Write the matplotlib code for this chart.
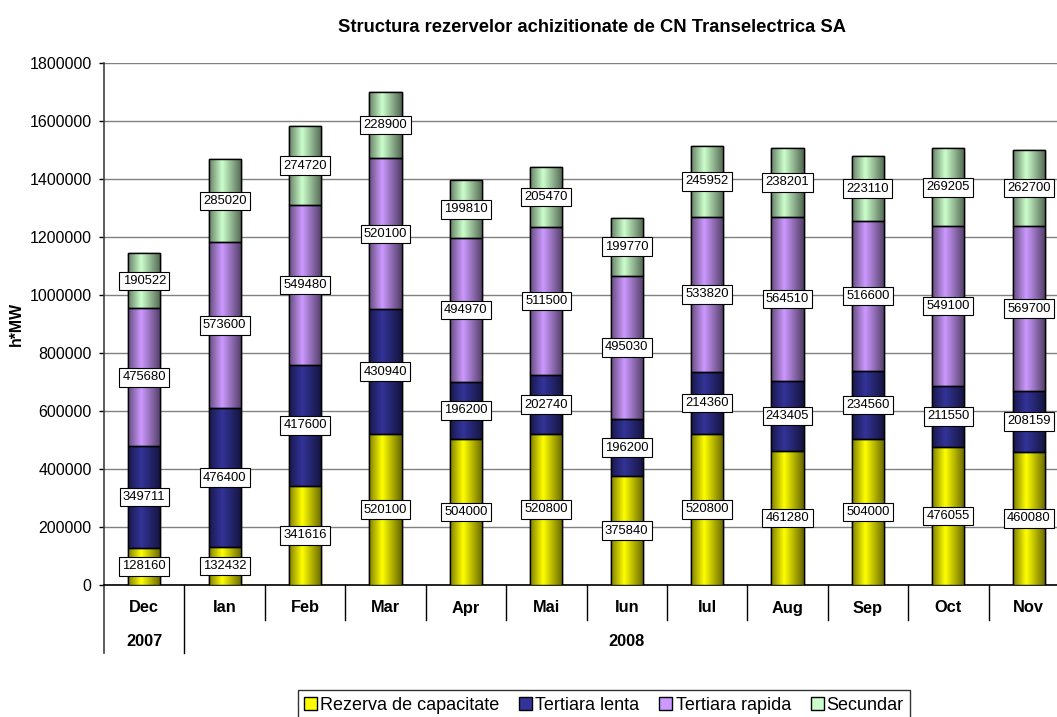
import numpy as np
import matplotlib
matplotlib.use("Agg")
import matplotlib.pyplot as plt
from matplotlib.patches import Patch

plt.rcParams['font.family'] = ['Liberation Sans', 'DejaVu Sans']

months = ["Dec", "Ian", "Feb", "Mar", "Apr", "Mai", "Iun", "Iul", "Aug", "Sep", "Oct", "Nov"]
years = ["2007", "2008"]
series_names = ["Rezerva de capacitate", "Tertiara lenta", "Tertiara rapida", "Secundar"]
rezerva = [128160, 132432, 341616, 520100, 504000, 520800, 375840, 520800, 461280, 504000, 476055, 460080]
lenta = [349711, 476400, 417600, 430940, 196200, 202740, 196200, 214360, 243405, 234560, 211550, 208159]
rapida = [475680, 573600, 549480, 520100, 494970, 511500, 495030, 533820, 564510, 516600, 549100, 569700]
secundar = [190522, 285020, 274720, 228900, 199810, 205470, 199770, 245952, 238201, 223110, 269205, 262700]
colors = ["#FFFF00", "#333399", "#CC99FF", "#CCFFCC"]

W, H = 1057, 717
fig = plt.figure(figsize=(W / 100, H / 100), dpi=100)
ax = fig.add_axes([104 / W, 1 - 585 / H, (1069 - 104) / W, (585 - 63) / H])

x = np.arange(len(months))
width = 0.4
bottom = np.zeros(len(months))

# cylinder-like horizontal shading profile
t = np.linspace(0, 1, 64)
shade = np.interp(t, [0, 0.4, 1.0], [0.5, 1.0, 0.4])

data = [rezerva, lenta, rapida, secundar]
for vals, col in zip(data, colors):
    vals = np.array(vals, dtype=float)
    bars = ax.bar(x, vals, width, bottom=bottom, color=col, edgecolor="black",
                  linewidth=1.0, zorder=3)
    rgb = np.array(matplotlib.colors.to_rgb(col))
    grad = (shade[:, None] * rgb[None, :])[None, :, :]
    for b in bars:
        x0, y0 = b.get_x(), b.get_y()
        im = ax.imshow(grad, extent=[x0, x0 + b.get_width(), y0, y0 + b.get_height()],
                       aspect='auto', zorder=3.5, interpolation='bilinear')
        im.set_clip_path(b)
        ax.bar(b.get_x() + b.get_width() / 2, b.get_height(), b.get_width(),
               bottom=y0, fill=False, edgecolor="black", linewidth=1.0, zorder=4)
    for xi, v, b0 in zip(x, vals, bottom):
        ax.text(xi, b0 + v / 2, f"{int(v)}", ha="center", va="center", fontsize=9.4,
                zorder=6,
                bbox=dict(boxstyle="square,pad=0.25", facecolor="white",
                          edgecolor="black", linewidth=0.8))
    bottom += vals

ax.set_xlim(-0.5, len(months) - 0.5)
ax.set_ylim(0, 1800000)
ax.set_yticks(np.arange(0, 1800001, 200000))
ax.set_yticklabels([str(v) for v in range(0, 1800001, 200000)], fontsize=11.5)
ax.yaxis.grid(True, color="#808080", linewidth=1.0, zorder=0)
ax.set_axisbelow(True)
ax.tick_params(axis='y', direction='out', length=3.6, width=1, pad=5.3)
ax.set_xticks([])
for s in ["top", "right"]:
    ax.spines[s].set_visible(False)
ax.spines["left"].set_color("#404040")
ax.spines["left"].set_linewidth(1.2)
ax.spines["bottom"].set_linewidth(1.2)

ax.set_ylabel("h*MW", fontsize=11.4, fontweight="bold")
ax.yaxis.set_label_coords(-80 / 965, 0.5)

# category axis (two levels)
ah = 522.0
trans = matplotlib.transforms.blended_transform_factory(ax.transData, ax.transAxes)
for i, m in enumerate(months):
    ax.text(i, -23 / ah, m, transform=trans, ha="center", va="center",
            fontsize=11.8, fontweight="bold")
for k in range(1, len(months) + 1):
    ylow = -68 / ah if k == 1 else -35 / ah
    ax.plot([k - 0.5, k - 0.5], [0, ylow], transform=trans, color="black",
            linewidth=1.0, clip_on=False)
ax.plot([-0.5, -0.5], [0, -68 / ah], transform=trans, color="#404040",
        linewidth=1.2, clip_on=False)
ax.text(0, -56 / ah, years[0], transform=trans, ha="center", va="center",
        fontsize=11.8, fontweight="bold")
ax.text(6, -56 / ah, years[1], transform=trans, ha="center", va="center",
        fontsize=11.8, fontweight="bold")

fig.text(592 / W, 1 - 27 / H, "Structura rezervelor achizitionate de CN Transelectrica SA",
         ha="center", va="center", fontsize=13.2, fontweight="bold")

handles = [Patch(facecolor=c, edgecolor="black", linewidth=1.0) for c in colors]
leg = fig.legend(handles, series_names, loc="center", ncol=4,
                 bbox_to_anchor=(604 / W, 1 - 705 / H), fontsize=13,
                 handlelength=0.72, handleheight=0.72, handletextpad=0.17,
                 columnspacing=1.1, frameon=True, fancybox=False,
                 borderpad=0.35, borderaxespad=0)
leg.get_frame().set_edgecolor("black")
leg.get_frame().set_linewidth(1.0)

fig.savefig("out.png", dpi=100)
